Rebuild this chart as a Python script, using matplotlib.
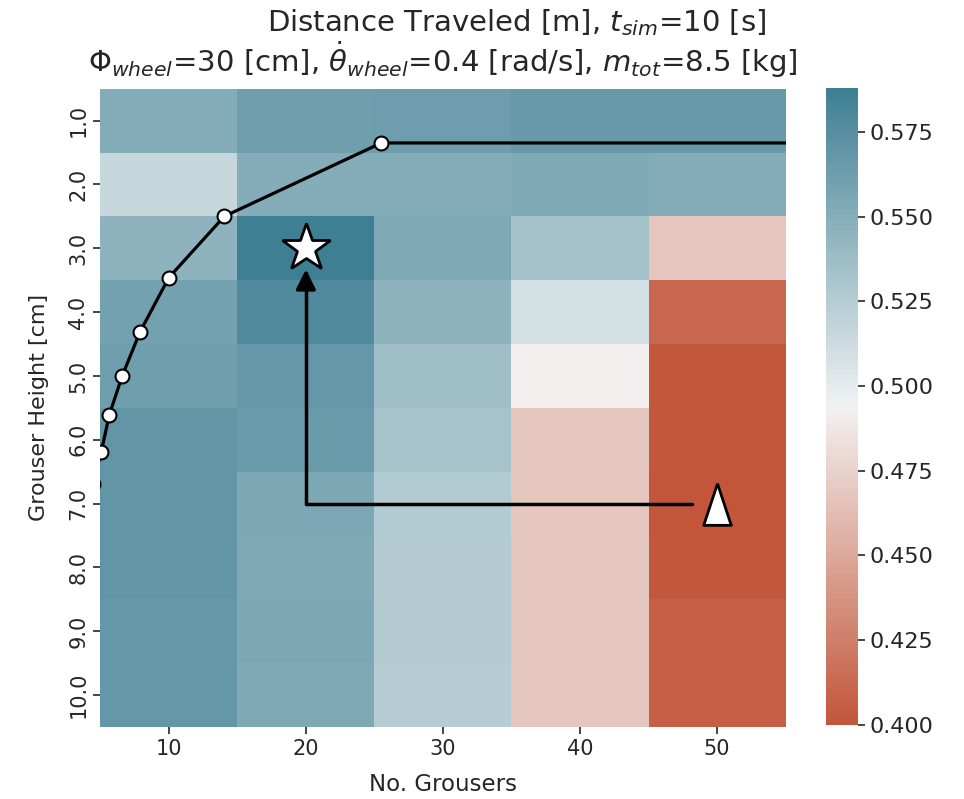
import matplotlib
matplotlib.use("Agg")
import matplotlib.pyplot as plt
import numpy as np
import seaborn as sns

# data
n_grousers = [10, 20, 30, 40, 50]
grouser_height = [1.0, 2.0, 3.0, 4.0, 5.0, 6.0, 7.0, 8.0, 9.0, 10.0]
# rows = grouser height, cols = no. grousers
distance = [
    [0.552, 0.562, 0.563, 0.566, 0.566],
    [0.516, 0.550, 0.552, 0.553, 0.552],
    [0.545, 0.588, 0.553, 0.534, 0.468],
    [0.560, 0.579, 0.545, 0.510, 0.411],
    [0.562, 0.568, 0.537, 0.492, 0.401],
    [0.569, 0.565, 0.533, 0.469, 0.401],
    [0.569, 0.555, 0.527, 0.469, 0.400],
    [0.569, 0.553, 0.526, 0.469, 0.401],
    [0.568, 0.555, 0.526, 0.469, 0.406],
    [0.568, 0.553, 0.525, 0.469, 0.406],
]
# feasibility boundary
bound_n = [60.0, 25.5, 14.05, 10.0, 7.9, 6.6, 5.66, 5.07, 4.45]
bound_h = [1.35, 1.35, 2.5, 3.46, 4.31, 5.0, 5.61, 6.19, 6.7]
best = (20, 3.0)
start = (50, 7.0)
arrow_from = (48.2, 7.0)
arrow_to = (20, 3.33)

plt.rcParams['font.family'] = ['DejaVu Sans']
txt = '#262626'

fig = plt.figure(figsize=(9.64, 7.99), dpi=100)
ax = fig.add_axes([0.104, 0.09, 0.711, 0.799])
cax = fig.add_axes([0.857, 0.093, 0.033, 0.797])

cmap = sns.diverging_palette(20, 220, as_cmap=True)
x = np.array(n_grousers, dtype=float)
y = np.array(grouser_height)
xe = np.concatenate([x - 5, [x[-1] + 5]])
ye = np.concatenate([y - 0.5, [y[-1] + 0.5]])
Z = np.array(distance)
mesh = ax.pcolormesh(xe, ye, Z, cmap=cmap, vmin=0.400, vmax=0.588, shading='flat')

ax.plot(bound_n, bound_h, color='black', lw=2.3, marker='o', ms=10,
        mfc='white', mec='black', mew=1.5, zorder=3)

ax.annotate('', xy=arrow_to, xytext=arrow_from,
            arrowprops=dict(arrowstyle='-|>,head_length=0.6,head_width=0.3',
                            connectionstyle='angle,angleA=0,angleB=90,rad=0',
                            color='black', lw=2.5, shrinkA=0, shrinkB=0,
                            mutation_scale=20), zorder=4)

ax.plot(*best, marker='*', ms=36, mfc='white', mec='black', mew=2, zorder=5)
tri = [(0, 1), (-0.66, -1), (0.66, -1), (0, 1)]
ax.plot(*start, marker=tri, ms=30, mfc='white', mec='black', mew=2, zorder=5)

ax.set_xlim(5, 55)
ax.set_ylim(10.5, 0.5)
ax.set_xticks(n_grousers)
ax.set_yticks(grouser_height)
ax.set_yticklabels([f'{h:.1f}' for h in grouser_height], rotation=90, va='center')
for s in ax.spines.values():
    s.set_visible(False)
ax.tick_params(labelsize=15, colors=txt, length=5, width=1.2)
ax.set_xlabel('No. Grousers', fontsize=16.5, color=txt, labelpad=10)
ax.set_ylabel('Grouser Height [cm]', fontsize=16, color=txt, labelpad=14)

# two title lines (first line sits a bit right of centre in the original)
fig.text(0.536, 0.972, 'Distance Traveled [m], $t_{sim}$=10 [s]',
         fontsize=21, color=txt, ha='center', va='center')
fig.text(0.4595, 0.925,
         r'$\Phi_{wheel}$=30 [cm], $\dot{\theta}_{wheel}$=0.4 [rad/s], $m_{tot}$=8.5 [kg]',
         fontsize=21, color=txt, ha='center', va='center')

cb = fig.colorbar(mesh, cax=cax)
cb.outline.set_visible(False)
cb.set_ticks(np.arange(0.400, 0.576, 0.025))
cb.ax.set_yticklabels([f'{t:.3f}' for t in np.arange(0.400, 0.576, 0.025)])
cb.ax.tick_params(labelsize=16, colors=txt, length=5, width=1.2)

fig.savefig('out.png', dpi=100)
